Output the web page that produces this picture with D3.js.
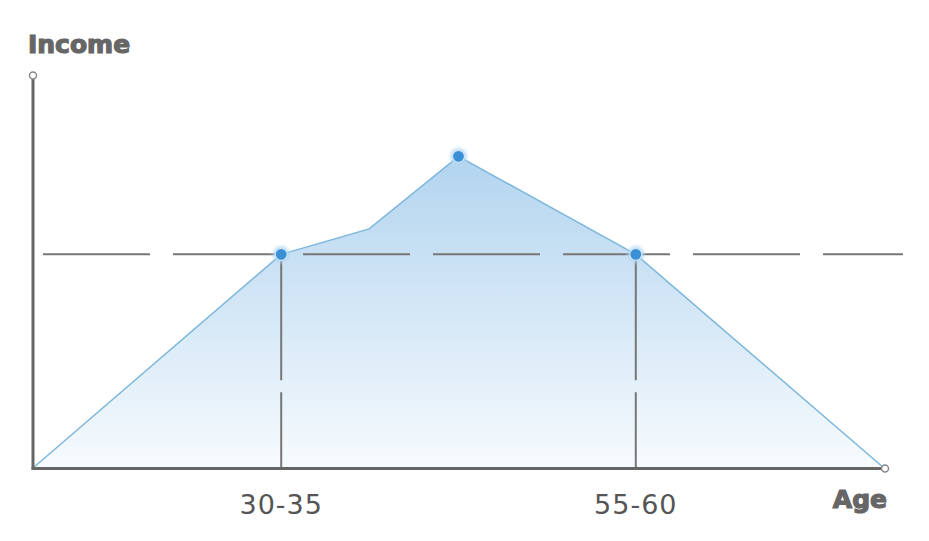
<!DOCTYPE html>
<html>
<head>
<meta charset="utf-8">
<script src="https://cdn.jsdelivr.net/npm/d3@7"></script>
<style>
  html, body { margin: 0; padding: 0; background: #ffffff; }
  svg { display: block; }
</style>
</head>
<body>
<svg id="chart" width="929" height="541"></svg>
<script>
// ---- data ----
const ages = [15, 32.5, 38.7, 45, 57.5, 75];
const incomes = [0, 54.5, 61, 79.5, 54.5, 0];
const highlightIdx = [1, 3, 4];
const refIncome = 54.5;
const tickAges = [32.5, 57.5];
const tickLabels = ["30-35", "55-60"];
const yTitle = "Income";
const xTitle = "Age";

const svg = d3.select("#chart");
const x = d3.scaleLinear().domain([15, 75]).range([33, 884]);
const y = d3.scaleLinear().domain([0, 100]).range([468, 76]);

const data = ages.map((a, i) => ({ age: a, inc: incomes[i] }));

const defs = svg.append("defs");
const grad = defs.append("linearGradient").attr("id", "fillGrad")
  .attr("gradientUnits", "userSpaceOnUse")
  .attr("x1", 0).attr("x2", 0).attr("y1", y(79.5)).attr("y2", y(0));
grad.append("stop").attr("offset", "0%").attr("stop-color", "#b2d4ef");
grad.append("stop").attr("offset", "100%").attr("stop-color", "#f7fbfe");

const glow = defs.append("radialGradient").attr("id", "glow");
glow.append("stop").attr("offset", "0%").attr("stop-color", "#7fbcea").attr("stop-opacity", 0.95);
glow.append("stop").attr("offset", "55%").attr("stop-color", "#9fcdf0").attr("stop-opacity", 0.7);
glow.append("stop").attr("offset", "100%").attr("stop-color", "#cfe6f8").attr("stop-opacity", 0);

// area
const area = d3.area().x(d => x(d.age)).y0(y(0)).y1(d => y(d.inc));
svg.append("path").datum(data).attr("d", area).attr("fill", "url(#fillGrad)");
const line = d3.line().x(d => x(d.age)).y(d => y(d.inc));
svg.append("path").datum(data).attr("d", line)
  .attr("fill", "none").attr("stroke", "#7db7dc").attr("stroke-width", 1.5);

// dashed reference lines
svg.append("line")
  .attr("x1", 43).attr("x2", 903)
  .attr("y1", y(refIncome)).attr("y2", y(refIncome))
  .attr("stroke", "#777").attr("stroke-width", 2)
  .attr("stroke-dasharray", "107,23");
tickAges.forEach(a => {
  svg.append("line")
    .attr("x1", x(a)).attr("x2", x(a))
    .attr("y1", y(refIncome)).attr("y2", y(0))
    .attr("stroke", "#777").attr("stroke-width", 2)
    .attr("stroke-dasharray", "126,12");
});

// axes
svg.append("line").attr("x1", 33).attr("x2", 33).attr("y1", 79).attr("y2", 469.5)
  .attr("stroke", "#666").attr("stroke-width", 3);
svg.append("line").attr("x1", 31.5).attr("x2", 881).attr("y1", 468.5).attr("y2", 468.5)
  .attr("stroke", "#666").attr("stroke-width", 3);
svg.append("circle").attr("cx", 33).attr("cy", 75.5).attr("r", 3.5)
  .attr("fill", "#fff").attr("stroke", "#888").attr("stroke-width", 1.5);
svg.append("circle").attr("cx", 885).attr("cy", 468.5).attr("r", 3.5)
  .attr("fill", "#fff").attr("stroke", "#888").attr("stroke-width", 1.5);

// highlight points
const pts = highlightIdx.map(i => data[i]);
svg.selectAll(".halo").data(pts).enter().append("circle")
  .attr("cx", d => x(d.age)).attr("cy", d => y(d.inc)).attr("r", 11)
  .attr("fill", "url(#glow)");
svg.selectAll(".pt").data(pts).enter().append("circle")
  .attr("cx", d => x(d.age)).attr("cy", d => y(d.inc)).attr("r", 6)
  .attr("fill", "#3b8fd5").attr("stroke", "#cfe6f9").attr("stroke-width", 1.2);

// tick labels
svg.selectAll(".tick").data(tickAges).enter().append("text")
  .attr("x", d => x(d)).attr("y", 514)
  .attr("text-anchor", "middle")
  .attr("font-family", "DejaVu Sans, sans-serif")
  .attr("font-size", 27).attr("letter-spacing", 1)
  .attr("fill", "#555")
  .text((d, i) => tickLabels[i]);

// titles
svg.append("text").attr("x", 28).attr("y", 53)
  .attr("font-family", "DejaVu Sans, sans-serif").attr("font-weight", "bold")
  .attr("font-size", 25).attr("fill", "#666")
  .attr("stroke", "#666").attr("stroke-width", 1.2)
  .text(yTitle);
svg.append("text").attr("x", 887).attr("y", 508).attr("text-anchor", "end")
  .attr("font-family", "DejaVu Sans, sans-serif").attr("font-weight", "bold")
  .attr("font-size", 25).attr("fill", "#666")
  .attr("stroke", "#666").attr("stroke-width", 1.2)
  .text(xTitle);
</script>
</body>
</html>
